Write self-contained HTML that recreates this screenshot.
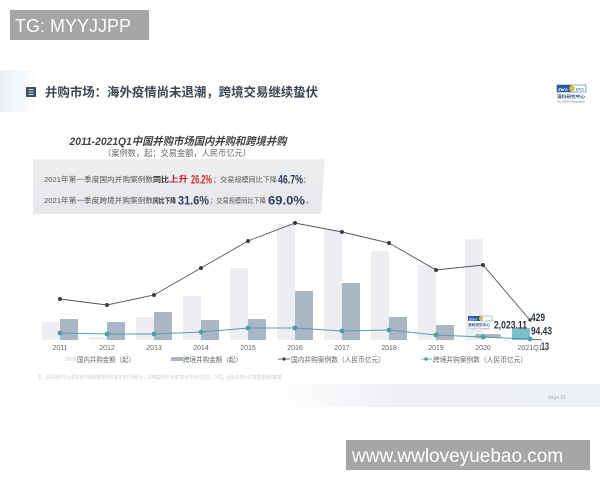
<!DOCTYPE html>
<html><head><meta charset="utf-8">
<style>
html,body{margin:0;padding:0;background:#fff;}
svg{display:block;}
text{font-family:"Liberation Sans","Noto Sans CJK SC",sans-serif;}
</style></head>
<body>
<svg width="600" height="480" viewBox="0 0 600 480" xmlns="http://www.w3.org/2000/svg">
<defs>
<linearGradient id="lg1" x1="0" y1="0" x2="1" y2="0">
<stop offset="0" stop-color="#eaf0f6"/><stop offset="1" stop-color="#ffffff"/>
</linearGradient>
<linearGradient id="band" x1="0" y1="0" x2="1" y2="0">
<stop offset="0" stop-color="#ffffff"/><stop offset="0.4" stop-color="#eef0f5"/><stop offset="1" stop-color="#edf0f5"/>
</linearGradient>
<linearGradient id="box" x1="0" y1="0" x2="0" y2="1">
<stop offset="0" stop-color="#eeeff1"/><stop offset="1" stop-color="#e6e7ea"/>
</linearGradient>
</defs>
<rect width="600" height="480" fill="#fff"/>

<!-- header -->
<rect x="0" y="70" width="40" height="42" fill="url(#lg1)"/>
<rect x="26" y="87" width="10" height="10" fill="#3e4f63"/>
<line x1="28.5" y1="89.5" x2="33.5" y2="89.5" stroke="#fff" stroke-width="0.8"/>
<line x1="28.5" y1="92" x2="33.5" y2="92" stroke="#fff" stroke-width="0.8"/>
<line x1="28.5" y1="94.5" x2="33.5" y2="94.5" stroke="#fff" stroke-width="0.8"/>
<text x="45" y="96.5" font-size="12.4" font-weight="bold" fill="#3a4656" textLength="273" lengthAdjust="spacingAndGlyphs">并购市场：海外疫情尚未退潮，跨境交易继续蛰伏</text>

<!-- logo top right -->
<rect x="557" y="85" width="29" height="7" fill="#fff" stroke="#3a66a8" stroke-width="0.6"/>
<rect x="557" y="85" width="14" height="7" fill="#2c5aa0"/>
<circle cx="572" cy="88.5" r="2.8" fill="#e8b830"/>
<text x="558" y="90.8" font-size="4.5" font-weight="bold" font-style="italic" fill="#fff">Zero</text>
<text x="576" y="90.8" font-size="4.5" fill="#2c5aa0">IPO</text>
<text x="557" y="98" font-size="4.2" font-weight="bold" fill="#2c4c80" textLength="28" lengthAdjust="spacingAndGlyphs">清科研究中心</text>
<text x="557" y="102.5" font-size="3" fill="#667" textLength="28" lengthAdjust="spacingAndGlyphs">Zero2IPO Research</text>

<!-- chart title -->
<text x="178" y="145" text-anchor="middle" font-size="11" font-weight="bold" font-style="italic" fill="#444" textLength="217" lengthAdjust="spacingAndGlyphs">2011-2021Q1中国并购市场国内并购和跨境并购</text>
<text x="177" y="156" text-anchor="middle" font-size="8.3" fill="#666" textLength="148" lengthAdjust="spacingAndGlyphs">（案例数，起；交易金额，人民币亿元）</text>

<!-- gray box -->
<polygon points="33,159 325,159 321,214 33,214" fill="url(#box)"/>
<!-- line 1 -->
<text x="44" y="182" font-size="7.2" fill="#555" textLength="109" lengthAdjust="spacingAndGlyphs">2021年第一季度国内并购案例数</text>
<text x="153" y="182" font-size="7.6" font-weight="bold" fill="#333" textLength="16" lengthAdjust="spacingAndGlyphs">同比</text>
<text x="169" y="182" font-size="8.5" font-weight="bold" fill="#c8202a" textLength="19" lengthAdjust="spacingAndGlyphs">上升</text>
<text x="191" y="183.5" font-size="12" font-weight="bold" fill="#d42b2b" textLength="21" lengthAdjust="spacingAndGlyphs">26.2%</text>
<text x="213" y="182" font-size="7" fill="#555" textLength="64" lengthAdjust="spacingAndGlyphs">；交易规模同比下降</text>
<text x="278" y="183.5" font-size="12" font-weight="bold" fill="#2d3f5e" textLength="25" lengthAdjust="spacingAndGlyphs">46.7%</text>
<text x="303" y="182" font-size="7" fill="#555">；</text>
<!-- line 2 -->
<text x="44" y="203" font-size="7.2" fill="#555" textLength="109" lengthAdjust="spacingAndGlyphs">2021年第一季度跨境并购案例数</text>
<text x="153" y="203" font-size="7" font-weight="bold" fill="#333" textLength="23" lengthAdjust="spacingAndGlyphs">同比下降</text>
<text x="178" y="204.5" font-size="12" font-weight="bold" fill="#2d3f5e" textLength="31" lengthAdjust="spacingAndGlyphs">31.6%</text>
<text x="210" y="203" font-size="7" fill="#555" textLength="56" lengthAdjust="spacingAndGlyphs">；交易规模同比下降</text>
<text x="268" y="204.5" font-size="12" font-weight="bold" fill="#2d3f5e" textLength="37" lengthAdjust="spacingAndGlyphs">69.0%</text>
<text x="306" y="203" font-size="7" fill="#555">。</text>

<!-- light bars -->
<g fill="#eceef1">
<rect x="42" y="322" width="18" height="18"/>
<rect x="89" y="337" width="18" height="3"/>
<rect x="136" y="317" width="18" height="23"/>
<rect x="183" y="296" width="18" height="44"/>
<rect x="230" y="268" width="18" height="72"/>
<rect x="277" y="224" width="18" height="116"/>
<rect x="324" y="230" width="18" height="110"/>
<rect x="371" y="251" width="18" height="89"/>
<rect x="418" y="265" width="18" height="75"/>
<rect x="465" y="239" width="18" height="101"/>
</g>
<rect x="512" y="328" width="18" height="12" fill="#7fbfc8"/>
<!-- dark bars -->
<g fill="#abb6c4">
<rect x="60" y="319" width="18" height="21"/>
<rect x="107" y="322" width="18" height="18"/>
<rect x="154" y="312" width="18" height="28"/>
<rect x="201" y="320" width="18" height="20"/>
<rect x="248" y="319" width="18" height="21"/>
<rect x="295" y="291" width="18" height="49"/>
<rect x="342" y="283" width="18" height="57"/>
<rect x="389" y="317" width="18" height="23"/>
<rect x="436" y="325" width="18" height="15"/>
<rect x="475" y="334" width="26" height="4" rx="2"/>
</g>

<!-- domestic line -->
<polyline fill="none" stroke="#555" stroke-width="0.9" points="60,299 107,305 154,295 201,268 248,241 295,223 342,232 389,243 436,270 483,265 530,320"/>
<g fill="#3d3d3d">
<circle cx="60" cy="299" r="2"/><circle cx="107" cy="305" r="2"/><circle cx="154" cy="295" r="2"/>
<circle cx="201" cy="268" r="2"/><circle cx="248" cy="241" r="2"/><circle cx="295" cy="223" r="2"/>
<circle cx="342" cy="232" r="2"/><circle cx="389" cy="243" r="2"/><circle cx="436" cy="270" r="2"/>
<circle cx="483" cy="265" r="2"/><circle cx="530" cy="320" r="1.6"/>
</g>
<!-- cross-border line -->
<polyline fill="none" stroke="#4ea3ab" stroke-width="1" points="60,333 107,334 154,334 201,332 248,328 295,328 342,331 389,330 436,335 483,337 530,339"/>
<line x1="530" y1="339" x2="542" y2="340" stroke="#444" stroke-width="0.8"/>
<g fill="#4aa0a8">
<circle cx="60" cy="333" r="2.4"/><circle cx="107" cy="334" r="2.4"/><circle cx="154" cy="334" r="2.4"/>
<circle cx="201" cy="332" r="2.4"/><circle cx="248" cy="328" r="2.4"/><circle cx="295" cy="328" r="2.4"/>
<circle cx="342" cy="331" r="2.4"/><circle cx="389" cy="330" r="2.4"/><circle cx="436" cy="335" r="2.4"/>
<circle cx="483" cy="337" r="2.4"/><circle cx="530" cy="339" r="2.4"/>
</g>

<!-- small logo in chart -->
<rect x="468" y="316" width="25" height="14" fill="#fff"/>
<rect x="468" y="316" width="12" height="5" fill="#2c5aa0"/>
<rect x="480" y="316" width="12" height="5" fill="#fff" stroke="#3a66a8" stroke-width="0.4"/>
<circle cx="481" cy="318.5" r="2" fill="#e8b830"/>
<text x="469" y="320.3" font-size="3.5" font-weight="bold" fill="#fff">Zero</text>
<text x="468" y="326" font-size="3.4" font-weight="bold" fill="#2c4c80" textLength="22" lengthAdjust="spacingAndGlyphs">清科研究中心</text>
<text x="468" y="329.5" font-size="2.5" fill="#778" textLength="22" lengthAdjust="spacingAndGlyphs">Zero2IPO Research</text>

<!-- value labels -->
<g font-weight="bold" fill="#2b323c">
<text x="494" y="328.5" font-size="11" textLength="33" lengthAdjust="spacingAndGlyphs">2,023.11</text>
<text x="531" y="321" font-size="11" textLength="14" lengthAdjust="spacingAndGlyphs">429</text>
<text x="531" y="334.5" font-size="11" textLength="21" lengthAdjust="spacingAndGlyphs">94.43</text>
<text x="541" y="350" font-size="11" textLength="8" lengthAdjust="spacingAndGlyphs">13</text>
</g>

<!-- year labels -->
<g font-size="7" fill="#666" text-anchor="middle">
<text x="60" y="350">2011</text><text x="107" y="350">2012</text><text x="154" y="350">2013</text>
<text x="201" y="350">2014</text><text x="248" y="350">2015</text><text x="295" y="350">2016</text>
<text x="342" y="350">2017</text><text x="389" y="350">2018</text><text x="436" y="350">2019</text>
<text x="483" y="350">2020</text><text x="530" y="350">2021Q1</text>
</g>

<!-- legend -->
<rect x="65" y="357" width="11" height="4" fill="#e8eaee"/>
<text x="77" y="362" font-size="7" fill="#666" textLength="58" lengthAdjust="spacingAndGlyphs">国内并购金额（起）</text>
<rect x="171" y="357" width="12" height="4" fill="#abb6c4"/>
<text x="183" y="362" font-size="7" fill="#666" textLength="59" lengthAdjust="spacingAndGlyphs">跨境并购金额（起）</text>
<line x1="278" y1="359" x2="290" y2="359" stroke="#555" stroke-width="0.8"/>
<circle cx="284" cy="359" r="1.6" fill="#3d3d3d"/>
<text x="291" y="362" font-size="7" fill="#666" textLength="94" lengthAdjust="spacingAndGlyphs">国内并购案例数（人民币亿元）</text>
<line x1="421" y1="359" x2="432" y2="359" stroke="#4ea3ab" stroke-width="0.8"/>
<circle cx="426" cy="359" r="1.8" fill="#4aa0a8"/>
<text x="433" y="362" font-size="7" fill="#666" textLength="94" lengthAdjust="spacingAndGlyphs">跨境并购案例数（人民币亿元）</text>

<!-- footnote -->
<text x="37" y="379" font-size="5" fill="#cfcfcf" textLength="245" lengthAdjust="spacingAndGlyphs">注：清科研究中心将年份交易数据按照交易宣布时间统计，并购案例中“完成”表示交易已完成，下同，此处仅统计已披露金额的数据</text>

<!-- bottom band -->
<rect x="270" y="384" width="330" height="23" fill="url(#band)"/>
<text x="548" y="399" font-size="5" fill="#b0b0b0">page  51</text>

<!-- watermarks -->
<rect x="10" y="10" width="139" height="30" fill="#a6a6a6"/>
<text x="15" y="32" font-size="18" fill="#fff">TG: MYYJJPP</text>
<rect x="346" y="440" width="244" height="30" fill="#a6a6a6"/>
<text x="352" y="462" font-size="19" fill="#fff">www.wwloveyuebao.com</text>
</svg>
</body></html>
